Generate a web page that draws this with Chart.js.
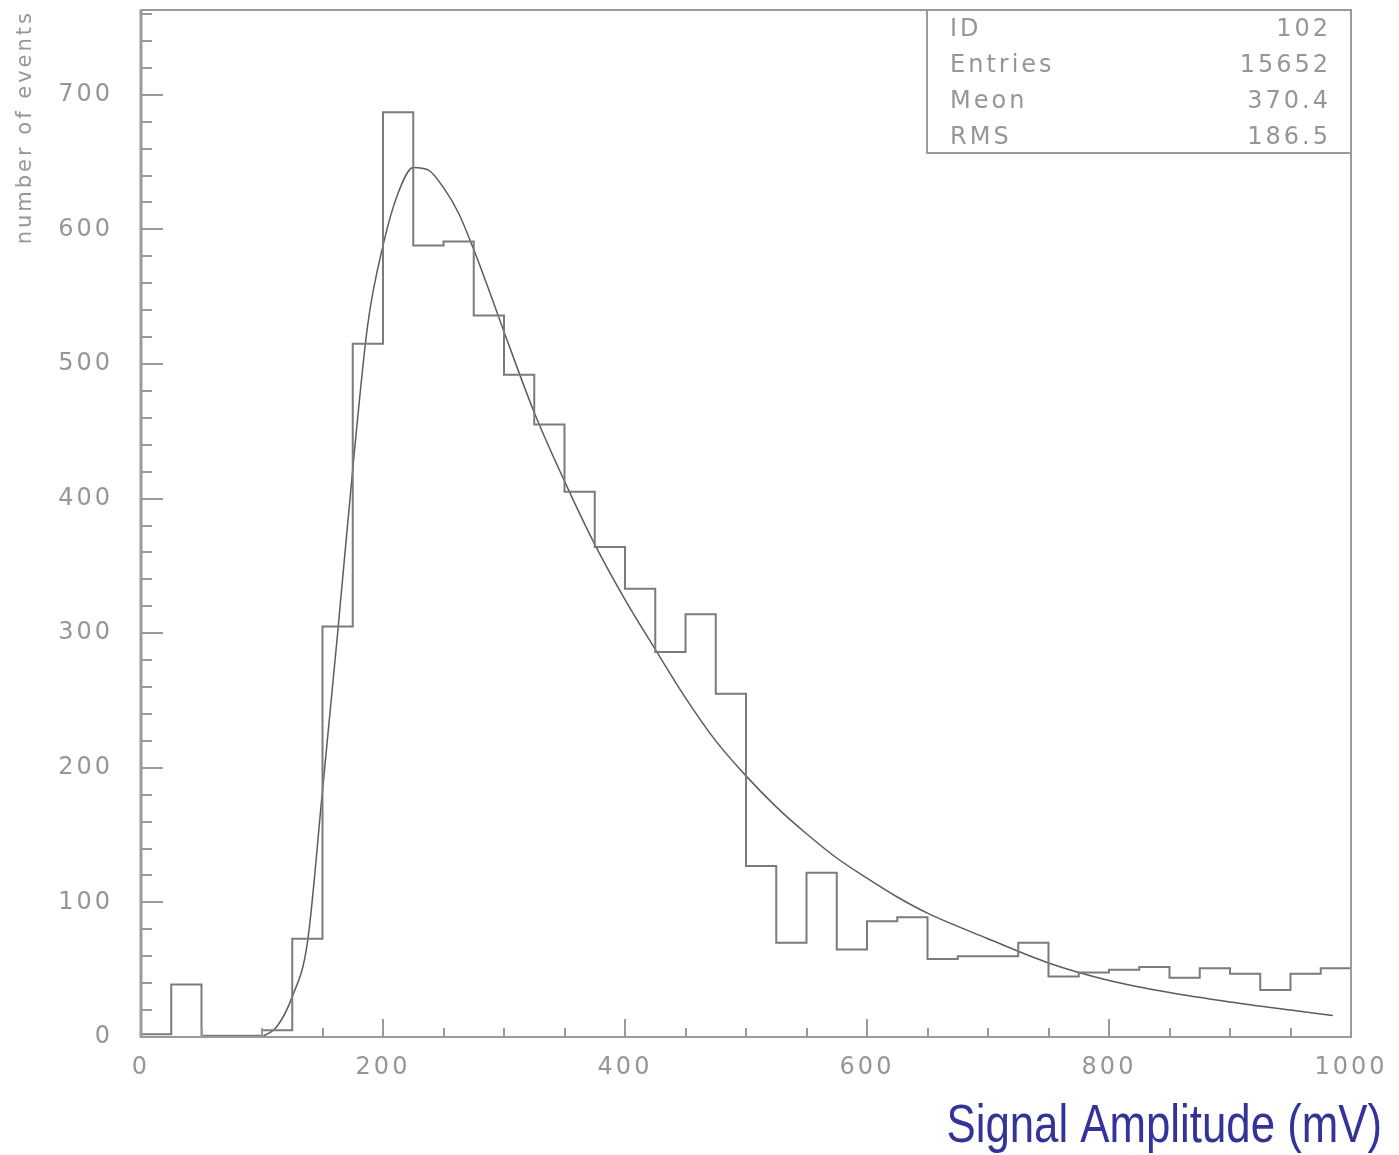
<!DOCTYPE html>
<html>
<head>
<meta charset="utf-8">
<title>Signal amplitude histogram</title>
<script src="https://cdn.jsdelivr.net/npm/chart.js@4.4.0/dist/chart.umd.min.js"></script>
<style>
  html, body { margin: 0; padding: 0; background: #fff; }
  #wrap { width: 1399px; height: 1155px; }
</style>
</head>
<body>
<div id="wrap"><canvas id="histChart" width="1399" height="1155"></canvas></div>
<script>
// histogram: 40 bins of 25 mV from 0 to 1000
const binWidth = 25;
const counts = [2, 39, 1, 1, 5, 73, 305, 515, 687, 588,
                591, 536, 492, 455, 405, 364, 333, 286, 314, 255,
                127, 70, 122, 65, 86, 89, 58, 60, 60, 70,
                45, 48, 50, 52, 44, 51, 47, 35, 47, 51];

// fitted curve
const fitX = [100, 112.5, 125, 137.5, 150, 162.5, 175, 187.5, 200, 212.5, 225, 237.5, 250, 262.5, 275, 287.5,
              300, 325, 350, 375, 400, 425, 450, 475, 500, 525, 550, 575, 600, 625, 650,
              700, 750, 800, 850, 900, 950, 985];
const fitY = [0, 8, 30, 70, 183, 300, 422, 530, 588, 627, 646, 644, 631, 612, 585, 555,
              524, 464, 413, 366, 325, 288, 252, 220, 194, 171, 151, 133, 118, 104, 92,
              73, 55, 42, 33, 26, 20, 16];

const statLabels = ['ID', 'Entries', 'Meon', 'RMS'];
const statValues = ['102', '15652', '370.4', '186.5'];

const xMax = 1000;
const yMax = 763;

const textGrey = '#969696';
const frameGrey = '#9a9a9a';
const tickFont = { family: '"DejaVu Sans", sans-serif', size: 24 };

const histPoints = counts.map((c, i) => ({ x: i * binWidth, y: c }));
histPoints.push({ x: counts.length * binWidth, y: counts[counts.length - 1] });
const fitPoints = fitX.map((v, i) => ({ x: v, y: fitY[i] }));

// frame, inner tick marks, stats box and x title
const frameAndTicks = {
  id: 'frameAndTicks',
  beforeDraw(chart) {
    chart.ctx.letterSpacing = '3px';
  },
  afterDraw(chart) {
    const { ctx, chartArea: a, scales: { x, y } } = chart;
    ctx.save();
    ctx.strokeStyle = frameGrey;
    ctx.lineWidth = 2;
    ctx.strokeRect(a.left, a.top, a.right - a.left, a.bottom - a.top);
    // left axis is a bit heavier
    ctx.beginPath();
    ctx.moveTo(a.left, a.top);
    ctx.lineTo(a.left, a.bottom);
    ctx.lineWidth = 3;
    ctx.stroke();

    ctx.lineWidth = 2;
    ctx.beginPath();
    for (let v = 20; v <= yMax; v += 20) {
      const py = Math.round(y.getPixelForValue(v));
      const len = v % 100 === 0 ? 22 : 11;
      ctx.moveTo(a.left, py);
      ctx.lineTo(a.left + len, py);
    }
    for (let v = 50; v < xMax; v += 50) {
      const px = Math.round(x.getPixelForValue(v));
      const len = v % 200 === 0 ? 18 : 9;
      ctx.moveTo(px, a.bottom);
      ctx.lineTo(px, a.bottom - len);
    }
    ctx.stroke();

    // stats box
    const boxLeft = 927, boxBottom = 153;
    ctx.fillStyle = '#fff';
    ctx.fillRect(boxLeft, a.top, a.right - boxLeft, boxBottom - a.top);
    ctx.strokeRect(boxLeft, a.top, a.right - boxLeft, boxBottom - a.top);
    ctx.font = '24px "DejaVu Sans", sans-serif';
    ctx.fillStyle = textGrey;
    ctx.textBaseline = 'middle';
    statLabels.forEach((lab, i) => {
      const ty = 30 + i * 36;
      ctx.textAlign = 'left';
      ctx.fillText(lab, boxLeft + 23, ty);
      ctx.textAlign = 'right';
      ctx.fillText(statValues[i], a.right - 20, ty);
    });

    // x axis title (narrow face, squeezed)
    ctx.letterSpacing = '0px';
    ctx.font = '53px "Liberation Sans", sans-serif';
    ctx.fillStyle = '#33339a';
    ctx.textAlign = 'right';
    ctx.textBaseline = 'alphabetic';
    ctx.translate(1382, 1142);
    ctx.scale(0.826, 1);
    ctx.fillText('Signal Amplitude (mV)', 0, 0);
    ctx.restore();
  }
};

const ctx = document.getElementById('histChart').getContext('2d');
const histChart = new Chart(ctx, {
  type: 'line',
  data: {
    datasets: [
      {
        label: 'counts',
        data: histPoints,
        stepped: 'before',
        borderColor: '#7b7b7b',
        borderWidth: 2,
        pointRadius: 0,
        fill: false
      },
      {
        label: 'fit',
        data: fitPoints,
        cubicInterpolationMode: 'monotone',
        borderColor: '#5c5c5c',
        borderWidth: 1.5,
        pointRadius: 0,
        fill: false
      }
    ]
  },
  options: {
    responsive: false,
    animation: false,
    events: [],
    layout: { autoPadding: false, padding: { top: 10, right: 48, left: 0, bottom: 0 } },
    plugins: {
      legend: { display: false },
      tooltip: { enabled: false }
    },
    scales: {
      x: {
        type: 'linear',
        min: 0,
        max: xMax,
        afterFit: s => { s.height = 118; s.paddingLeft = 0; s.paddingRight = 0; },
        grid: { display: false, drawTicks: false },
        border: { display: false },
        ticks: { stepSize: 200, padding: 16, maxRotation: 0, color: textGrey, font: tickFont,
                 callback: v => String(v) }
      },
      y: {
        min: 0,
        max: yMax,
        afterFit: s => { s.width = 141; s.paddingTop = 0; s.paddingBottom = 0; },
        afterBuildTicks: s => { s.ticks = s.ticks.filter(t => t.value % 100 === 0); },
        grid: { display: false, drawTicks: false },
        border: { display: false },
        ticks: { stepSize: 100, padding: 28, color: textGrey, font: tickFont },
        title: {
          display: true,
          text: 'number of events',
          align: 'end',
          color: textGrey,
          font: { family: '"DejaVu Sans", sans-serif', size: 21 },
          padding: { top: 13, bottom: 0 }
        }
      }
    }
  },
  plugins: [frameAndTicks]
});
</script>
</body>
</html>
